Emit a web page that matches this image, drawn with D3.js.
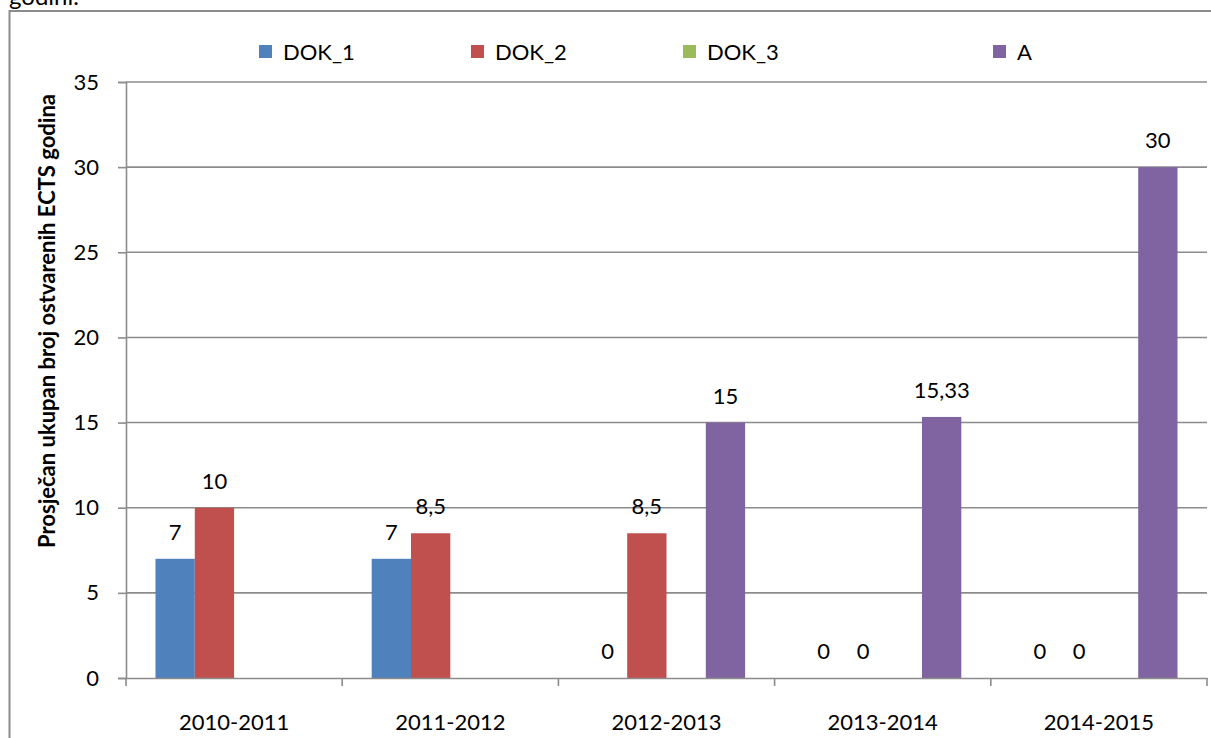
<!DOCTYPE html>
<meta charset="utf-8">
<title>ECTS</title>
<script src="https://d3js.org/d3.v7.min.js"></script>
<style>
  body { margin: 0; background: #fff; }
  text { font-family: Lato, "Open Sans", sans-serif; fill: #000; }
</style>
<div id="chart"></div>
<script>
// data
var categories = ["2010-2011", "2011-2012", "2012-2013", "2013-2014", "2014-2015"];
var seriesNames = ["DOK_1", "DOK_2", "DOK_3", "A"];
var seriesColors = ["#4f81bd", "#c0504d", "#9bbb59", "#8064a2"];
var dok1 = [7, 7, 0, 0, 0];
var dok2 = [10, 8.5, 8.5, 0, 0];
var dok3 = [null, null, null, null, null];
var valA = [null, null, 15, 15.33, 30];
var yTicks = [0, 5, 10, 15, 20, 25, 30, 35];
var legendX = [259, 471, 683, 993];

var seriesValues = [dok1, dok2, dok3, valA];

var W = 1211, H = 738;
var margin = {top: 82, right: 4, bottom: 60, left: 126};
var width = W - margin.left - margin.right,
    height = H - margin.top - margin.bottom;
var fs = "22px";

var svg = d3.select("#chart").append("svg")
    .attr("width", W).attr("height", H);

// text above chart (cut off in the original too)
svg.append("text").attr("x", 9).attr("y", 5)
    .style("font-size", "24px").text("godini.");

// outer chart border
svg.append("rect").attr("x", 9.5).attr("y", 11).attr("width", 1215).attr("height", 740)
    .attr("fill", "none").attr("stroke", "#8c8c8c").attr("stroke-width", 2);

var g = svg.append("g").attr("transform", "translate(" + margin.left + "," + margin.top + ")");

var x = d3.scaleBand().domain(categories).range([0, width]).paddingInner(0).paddingOuter(0);
var bw = x.bandwidth() / 5.5;   // gap width 150%
var x1 = d3.scaleBand().domain(seriesNames)
    .range([bw * 0.75, bw * 4.75]);
var y = d3.scaleLinear().domain([0, 35]).range([height, 0]);

// gridlines
g.selectAll(".grid").data(yTicks.slice(1)).enter().append("line")
    .attr("x1", 0).attr("x2", width)
    .attr("y1", function(d) { return y(d); }).attr("y2", function(d) { return y(d); })
    .attr("stroke", "#8c8c8c").attr("stroke-width", 1.6);

// bars
var rows = [];
seriesValues.forEach(function(vals, s) {
  vals.forEach(function(v, i) {
    rows.push({s: s, name: seriesNames[s], cat: categories[i], v: v});
  });
});
var present = rows.filter(function(d) { return d.v !== null; });

g.selectAll(".bar").data(present).enter().append("rect")
    .attr("x", function(d) { return x(d.cat) + x1(d.name); })
    .attr("width", x1.bandwidth())
    .attr("y", function(d) { return y(d.v); })
    .attr("height", function(d) { return y(0) - y(d.v); })
    .attr("fill", function(d) { return seriesColors[d.s]; });

// labels
g.selectAll(".lbl").data(present).enter().append("text")
    .attr("x", function(d) { return x(d.cat) + x1(d.name) + x1.bandwidth() / 2; })
    .attr("y", function(d) { return y(d.v) - 19; })
    .attr("text-anchor", "middle")
    .style("font-size", fs)
    .text(function(d) { return String(d.v).replace(".", ","); });

// y axis
var yAxis = g.append("g").call(d3.axisLeft(y).tickValues(yTicks).tickSize(8).tickPadding(19));
yAxis.selectAll("line, path").attr("stroke", "#8c8c8c").attr("stroke-width", 1.6);
yAxis.selectAll("text").style("font-size", fs).style("font-family", "Lato, sans-serif");

// x axis
var xAxis = g.append("g").attr("transform", "translate(0," + height + ")")
    .call(d3.axisBottom(x).tickSize(0));
xAxis.selectAll("path").attr("stroke", "#8c8c8c").attr("stroke-width", 1.6);
xAxis.selectAll("text").attr("y", 52).attr("dy", 0)
    .style("font-size", fs).style("font-family", "Lato, sans-serif");
// category separators
g.selectAll(".sep").data(categories.concat([null])).enter().append("line")
    .attr("x1", function(d, i) { return i * x.step(); })
    .attr("x2", function(d, i) { return i * x.step(); })
    .attr("y1", height).attr("y2", height + 8)
    .attr("stroke", "#8c8c8c").attr("stroke-width", 1.6);

// y title
svg.append("text")
    .attr("transform", "translate(55,321) rotate(-90)")
    .attr("text-anchor", "middle")
    .style("font-size", fs).style("font-weight", "bold")
    .text("Prosječan ukupan broj ostvarenih ECTS godina");

// legend
var leg = svg.selectAll(".leg").data(seriesNames).enter().append("g")
    .attr("transform", function(d, i) { return "translate(" + legendX[i] + ",45)"; });
leg.append("rect").attr("width", 13).attr("height", 13)
    .attr("fill", function(d, i) { return seriesColors[i]; });
leg.append("text").attr("x", 24).attr("y", 15).style("font-size", fs)
    .text(function(d) { return d; });
</script>
